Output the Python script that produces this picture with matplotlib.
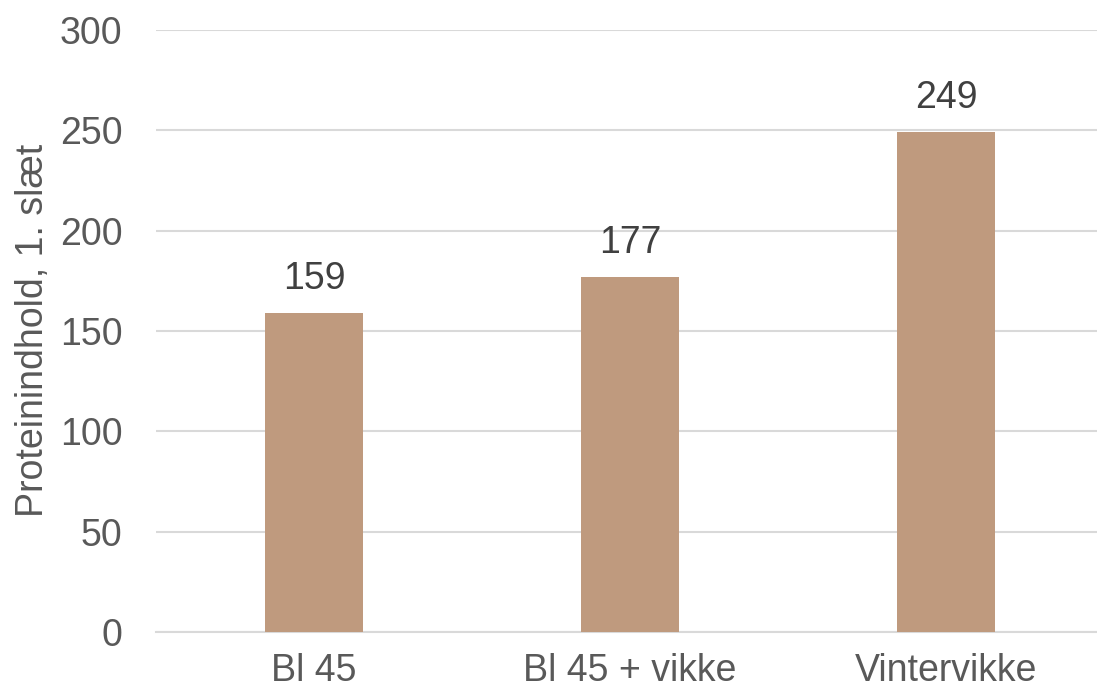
import matplotlib
matplotlib.use("Agg")
import matplotlib.pyplot as plt

categories = ["Bl 45", "Bl 45 + vikke", "Vintervikke"]
values = [159, 177, 249]
yticks = [0, 50, 100, 150, 200, 250, 300]

plt.rcParams['font.family'] = ['Liberation Sans', 'DejaVu Sans']
W, H = 1097, 693
fig = plt.figure(figsize=(W/100, H/100), dpi=100)
ax = fig.add_axes([156/W, (H-632)/H, (1104-156)/W, (632-30)/H])

x = range(len(categories))
bars = ax.bar(x, values, width=0.31, color="#BF9A7E", zorder=3)
for xi, v in zip(x, values):
    ax.text(xi, v + 8, str(v), ha="center", va="bottom", fontsize=27, color="#404040")

ax.set_xlim(-0.5, 2.5)
ax.set_ylim(0, 300)
ax.set_yticks(yticks)
ax.set_xticks(list(x))
ax.set_xticklabels(categories)
ax.grid(axis="y", color="#D9D9D9", linewidth=1.5, zorder=0)
for s in ["top", "right", "left"]:
    ax.spines[s].set_visible(False)
ax.spines["bottom"].set_color("#D9D9D9")
ax.spines["bottom"].set_linewidth(1.5)
ax.tick_params(axis="both", length=0, labelsize=27, colors="#595959")
ax.tick_params(axis="y", pad=24)
ax.tick_params(axis="x", pad=15)
fig.text(33 / W, (H - 330) / H, "Proteinindhold, 1. slæt", rotation=90,
         ha="center", va="center", fontsize=27, color="#595959")

fig.savefig("out.png", dpi=100)
